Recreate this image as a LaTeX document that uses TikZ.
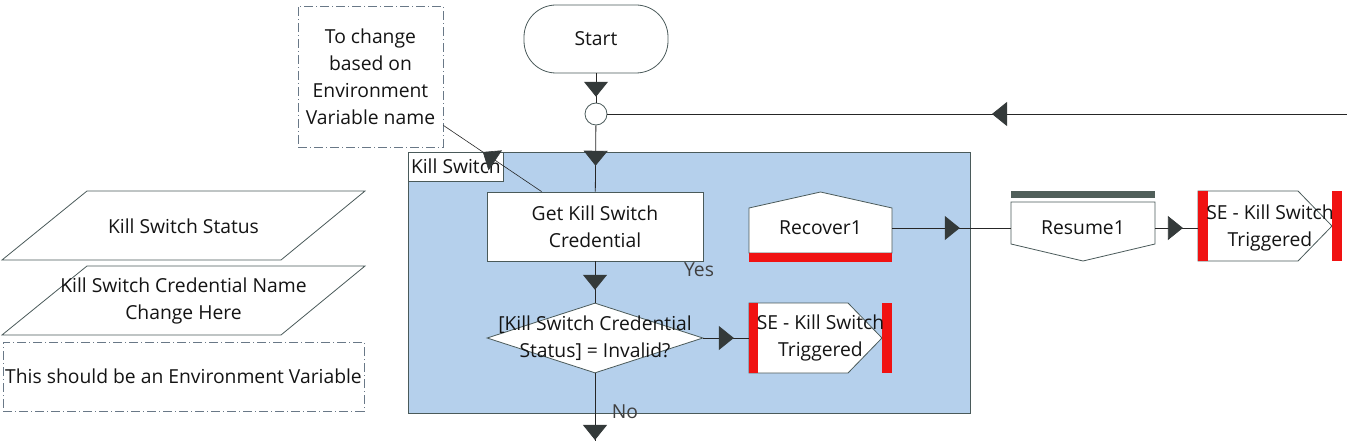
\documentclass[tikz,border=0pt]{standalone}
\usepackage{fontspec}
\setmainfont{Open Sans}
\usepackage{tikz}
\usetikzlibrary{arrows.meta,positioning,calc,shapes.geometric,decorations.markings}

\definecolor{edgegrey}{RGB}{74,90,90}
\definecolor{tipgrey}{RGB}{52,58,58}
\definecolor{groupblue}{RGB}{181,208,236}
\definecolor{stopred}{RGB}{240,18,18}
\definecolor{bargrey}{RGB}{80,95,90}
\definecolor{notegrey}{RGB}{105,120,135}

\begin{document}
\begin{tikzpicture}[x=1pt,y=-1pt,
    every node/.style={font=\fontsize{19.3}{27}\selectfont,text=black!92},
    flow/.style={draw=black!85,line width=0.8pt},
    midtip/.style={postaction={decorate},decoration={markings,
        mark=at position #1 with {\arrow{Triangle[width=24pt,length=15pt,color=tipgrey]}}}},
    edge/.style={draw=edgegrey,line width=0.8pt},
    taskbox/.style={edge,fill=white,minimum width=216pt,minimum height=69pt,inner sep=0pt,align=center},
    shapetext/.style={minimum width=143pt,minimum height=70pt,inner sep=0pt,align=center},
    notebox/.style={draw=notegrey,line width=0.8pt,dash pattern=on 9pt off 3pt on 1pt off 3pt,align=center,inner sep=0pt},
    branch/.style={text=black!75,inner sep=0pt}]
    \useasboundingbox (0,0) rectangle (1347,441);

    % group
    \node[edge,fill=groupblue,minimum width=562pt,minimum height=261pt,inner sep=0pt] (group) at (689,282.5) {};
    \node[edge,fill=white,anchor=north west,minimum height=29pt,inner xsep=3pt,inner ysep=0pt] (grouptag) at (group.north west) {Kill Switch};

    \node[edge,fill=white,rounded corners=32pt,minimum width=144pt,minimum height=68pt] (start) at (596,39) {Start};
    \node[edge,fill=white,circle,minimum size=22pt,inner sep=0pt] (join) at (596,114) {};

    \node[notebox,minimum width=145pt,minimum height=141pt] (note) at (370.5,76.5)
        {To change\\based on\\Environment\\Variable name};

    \node[taskbox] (getcred) at (595,226.5) {Get Kill Switch\\Credential};
    \node[edge,fill=white,diamond,minimum width=216pt,minimum height=70pt,inner sep=0pt,
        label={[name=checktext,align=center]center:{[Kill Switch Credential\\Status] = Invalid?}}] (check) at (595,338) {};

    % stop event inside group
    \begin{scope}[shift={(749,303)}]
        \draw[edge,fill=white] (0,0) -- (99,0) -- (133,35) -- (99,70) -- (0,70) -- cycle;
        \fill[stopred] (0,0) rectangle (9,70);
        \fill[stopred] (133,0) rectangle (143,70);
        \node[shapetext] (stop1) at (71.5,35) {SE - Kill Switch\\Triggered};
    \end{scope}

    % recover
    \begin{scope}[shift={(749,192)}]
        \draw[edge,fill=white] (0,16) -- (71.5,0) -- (143,16) -- (143,61) -- (0,61) -- cycle;
        \fill[stopred] (0,61) rectangle (143,70);
        \node[shapetext] (recover) at (71.5,36) {Recover1};
    \end{scope}

    % resume
    \begin{scope}[shift={(1011,191)}]
        \fill[bargrey] (0,0) rectangle (144,7);
        \draw[edge,fill=white] (0,11) -- (144,11) -- (144,53) -- (72,70) -- (0,53) -- cycle;
        \node[shapetext,minimum width=144pt] (resume) at (72,37) {Resume1};
    \end{scope}

    % stop event outside
    \begin{scope}[shift={(1198,191)}]
        \draw[edge,fill=white] (0,0) -- (100,0) -- (134,35) -- (100,70) -- (0,70) -- cycle;
        \fill[stopred] (0,0) rectangle (10,70);
        \fill[stopred] (134,0) rectangle (144,70);
        \node[shapetext,minimum width=144pt] (stop2) at (72,37) {SE - Kill Switch\\Triggered};
    \end{scope}

    % data inputs
    \foreach \y/\name/\txt in {191/ksstatus/{Kill Switch Status},266/ksname/{Kill Switch Credential Name\\Change Here}} {
        \draw[edge,fill=white] (2,\y+69) -- (87,\y) -- (365,\y) -- (281,\y+69) -- cycle;
        \node[align=center,inner sep=0pt] (\name) at (183.5,\y+35) {\txt};
    }
    \node[notebox,minimum width=361pt,minimum height=69pt] (envnote) at (183.5,376.5)
        {This should be an Environment Variable};

    \node[branch] (yes) at (699,270) {Yes};
    \node[branch] (no) at (625,412) {No};

    \coordinate (loopin) at (1347,114);
    \coordinate (exit) at (595,441);

    % connectors
    \draw[flow,midtip=0.8] (start) -- (join);
    \draw[flow,midtip=0.61] (join) -- (getcred);
    \draw[flow,midtip=0.69] (getcred) -- (check);
    \draw[flow,midtip=0.67] (check.east) -- (stop1.west);
    \draw[flow,midtip=0.985] (check.south) -- (exit);
    \draw[flow,midtip=0.57] (recover.east) -- (resume.west);
    \draw[flow,midtip=0.65] (resume.east) -- (stop2.west);
    \draw[flow,midtip=0.48] (loopin) -- (join.east);
    \draw[flow,line width=0.6pt,midtip=0.6] ([xshift=55pt]getcred.north west) -- ([yshift=22pt]note.south east);
\end{tikzpicture}
\end{document}
